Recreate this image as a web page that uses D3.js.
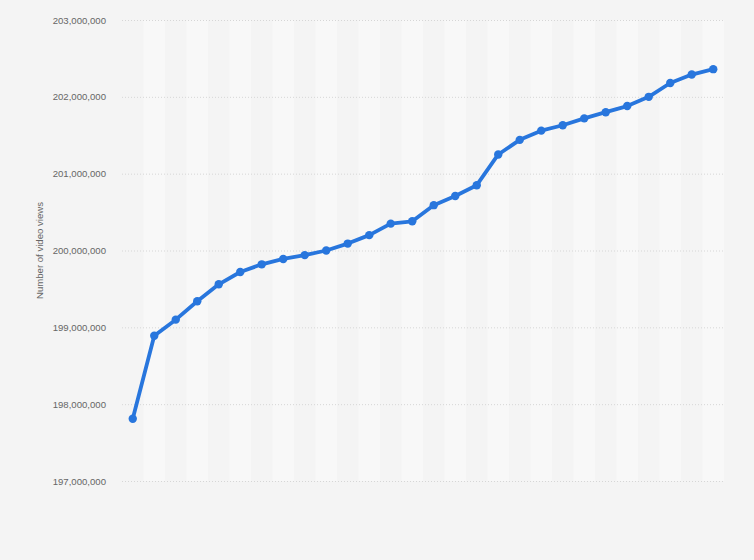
<!DOCTYPE html>
<html lang="en">
<head>
<meta charset="UTF-8">
<title>Number of video views</title>
<script src="https://d3js.org/d3.v7.min.js"></script>
<style>
  html, body { margin: 0; padding: 0; background: #f4f4f4; }
  svg { display: block; font-family: Arial, "Liberation Sans", sans-serif; }
</style>
</head>
<body>
<svg id="chart" width="754" height="560"></svg>
<script>
// one point per period, values in views
const periods = d3.range(1, 29).map(d => "P" + d);
const views = [
  197810000, 198890000, 199100000, 199340000, 199560000, 199720000, 199820000,
  199890000, 199940000, 200000000, 200090000, 200200000, 200350000, 200380000,
  200590000, 200710000, 200850000, 201250000, 201440000, 201560000, 201630000,
  201720000, 201800000, 201880000, 202000000, 202180000, 202290000, 202360000
];
const yTicks = [197000000, 198000000, 199000000, 200000000, 201000000, 202000000, 203000000];
const yTitle = "Number of video views";

const svg = d3.select("#chart");
const plotLeft = 122, plotRight = 724, plotTop = 20, plotBottom = 481;

const x = d3.scaleBand().domain(periods).range([plotLeft, plotRight]).padding(0);
const y = d3.scaleLinear().domain([197000000, 203000000]).range([plotBottom, plotTop]);

// alternating column stripes
svg.append("g")
  .selectAll("rect")
  .data(periods.filter((d, i) => i % 2 === 1))
  .join("rect")
  .attr("x", d => x(d))
  .attr("y", plotTop)
  .attr("width", x.bandwidth())
  .attr("height", plotBottom - plotTop)
  .attr("fill", "#f8f8f8");

// y axis with dotted gridlines
const yAxis = d3.axisLeft(y)
  .tickValues(yTicks)
  .tickSize(-(plotRight - plotLeft))
  .tickPadding(16)
  .tickFormat(d3.format(","));

svg.append("g")
  .attr("transform", `translate(${plotLeft},0)`)
  .call(yAxis)
  .call(g => g.select(".domain").remove())
  .call(g => g.selectAll(".tick line")
    .attr("stroke", "#d6d6d6")
    .attr("stroke-width", 1)
    .attr("stroke-dasharray", "1,2"))
  .call(g => g.selectAll(".tick text")
    .attr("fill", "#666")
    .attr("font-size", "9.6px"));

svg.append("text")
  .attr("transform", `translate(43,${(plotTop + plotBottom) / 2}) rotate(-90)`)
  .attr("text-anchor", "middle")
  .attr("fill", "#666")
  .attr("font-size", "9.6px")
  .text(yTitle);

const line = d3.line()
  .x((d, i) => x(periods[i]) + x.bandwidth() / 2)
  .y(d => y(d));

svg.append("path")
  .datum(views)
  .attr("d", line)
  .attr("fill", "none")
  .attr("stroke", "#2876dd")
  .attr("stroke-width", 3.8)
  .attr("stroke-linejoin", "round");

svg.append("g")
  .selectAll("circle")
  .data(views)
  .join("circle")
  .attr("cx", (d, i) => x(periods[i]) + x.bandwidth() / 2)
  .attr("cy", d => y(d))
  .attr("r", 4.2)
  .attr("fill", "#2876dd");
</script>
</body>
</html>
